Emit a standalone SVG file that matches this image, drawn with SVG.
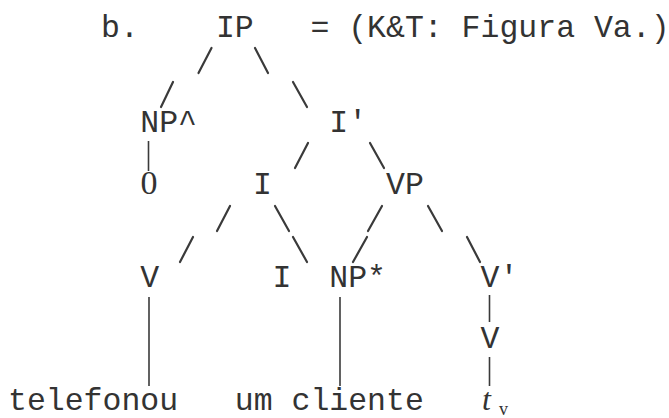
<svg xmlns="http://www.w3.org/2000/svg" width="669" height="418" viewBox="0 0 669 418">
<style>
.t{font-family:"Liberation Mono","Courier New",monospace;font-size:31.5px;fill:#333}
.s{font-family:"Liberation Serif","Times New Roman",serif;fill:#333}
.c line{stroke:#3a3a3a;stroke-width:2.2;stroke-linecap:round}
.c line.v{stroke-width:1.6;stroke-linecap:butt}
</style>
<rect width="669" height="418" fill="#fff"/>
<text class="t" x="101" y="37">b.</text>
<text class="t" x="310.4" y="37" xml:space="preserve">= (K&amp;T: Figura Va.)</text>
<g id="IP"><text class="t" x="215.9" y="37">IP</text></g>
<g id="NPhat"><text class="t" x="140.3" y="132">NP^</text></g>
<g id="Ibar"><text class="t" x="329.3" y="132">I'</text></g>
<g id="zero"><text class="s" x="140.5" y="194" style="font-size:34px">0</text></g>
<g id="I1"><text class="t" x="253.1" y="194">I</text></g>
<g id="VP"><text class="t" x="386" y="194">VP</text></g>
<g id="V1"><text class="t" x="140.3" y="287">V</text></g>
<g id="I2"><text class="t" x="272.6" y="287">I</text></g>
<g id="NPstar"><text class="t" x="329.3" y="287">NP*</text></g>
<g id="Vbar"><text class="t" x="480.5" y="287">V'</text></g>
<g id="V2"><text class="t" x="480.5" y="348">V</text></g>
<g id="telefonou"><text class="t" x="8" y="410">telefonou</text></g>
<g id="umcliente"><text class="t" x="234.8" y="410">um cliente</text></g>
<g id="tv"><text class="s" x="482" y="410" style="font-style:italic;font-size:32px">t</text><text class="s" x="499" y="415" style="font-size:18px">v</text></g>
<g id="connectors" class="c">
<line x1="211.5" y1="48" x2="198.5" y2="73"/>
<line x1="255" y1="48" x2="268" y2="73"/>
<line x1="173" y1="82" x2="161" y2="107"/>
<line x1="293" y1="82" x2="307" y2="107"/>
<line x1="308" y1="143" x2="295" y2="168"/>
<line x1="370" y1="143" x2="384" y2="168"/>
<line x1="230" y1="206" x2="217" y2="231"/>
<line x1="275" y1="206" x2="289" y2="231"/>
<line x1="382" y1="206" x2="368" y2="231"/>
<line x1="428" y1="206" x2="442" y2="231"/>
<line x1="193" y1="237" x2="180" y2="262"/>
<line x1="293" y1="237" x2="307" y2="262"/>
<line x1="367" y1="237" x2="353" y2="262"/>
<line x1="467" y1="237" x2="480" y2="262"/>
<line class="v" x1="148.5" y1="141" x2="148.5" y2="171"/>
<line class="v" x1="149" y1="297" x2="149" y2="386"/>
<line class="v" x1="340" y1="297" x2="340" y2="386"/>
<line class="v" x1="489.5" y1="295" x2="489.5" y2="322"/>
<line class="v" x1="489.5" y1="357" x2="489.5" y2="386"/>
</g>
</svg>
